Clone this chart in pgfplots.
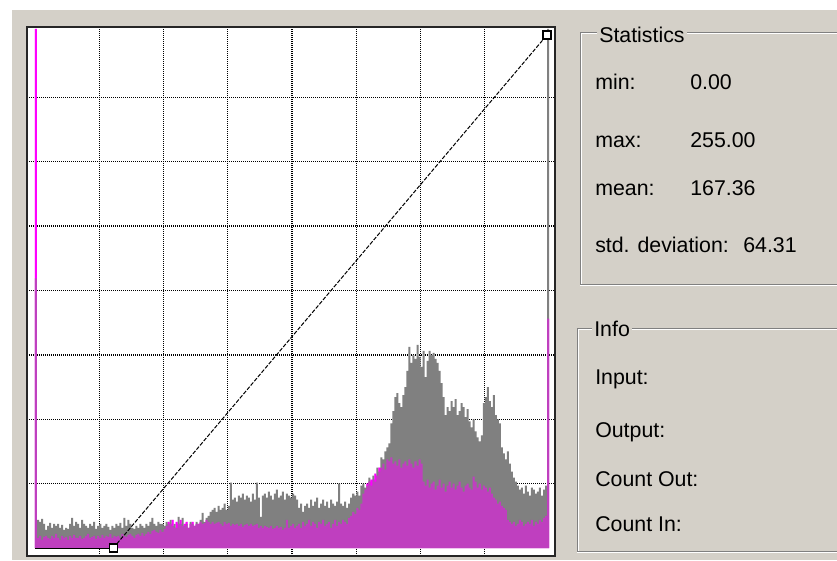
\documentclass[border=0pt]{standalone}
\usepackage{pgfplots}
\pgfplotsset{compat=1.18}
\usepackage{pgfplotstable}
\usepackage{fontspec}
\setmainfont{Liberation Sans}
\definecolor{panel}{HTML}{D4D0C8}
\definecolor{hgray}{HTML}{808080}
\definecolor{mag}{HTML}{FF00FF}
\definecolor{etch}{HTML}{808080}
\newcommand\ui{\fontsize{16}{19}\selectfont}

\pgfplotstableread[row sep=\\]{
x g m\\
0 134 258\\ 1 14 5\\ 2 13 6\\ 3 14.5 4\\ 4 12 5.5\\ 5 9 6\\ 6 11 5\\ 7 12.5 4.5\\ 8 10 6\\ 9 12 5\\
10 11 7\\ 11 12 5\\ 12 10 4\\ 13 11.5 6\\ 14 9 5\\ 15 10 5.5\\ 16 9.5 4\\ 17 12 6\\ 18 15 5\\ 19 11 6.5\\
20 13 5\\ 21 12 5\\ 22 10 6\\ 23 14 4.5\\ 24 12 5\\ 25 11 6\\ 26 10 7\\ 27 12 5\\ 28 11 5.5\\ 29 13 6\\
30 9.5 4.5\\ 31 11 6\\ 32 12 5\\ 33 10 6.5\\ 34 11 5\\ 35 12 6\\ 36 10.5 5.5\\ 37 9 7\\ 38 11 5\\ 39 10 6\\
40 12 5.5\\ 41 11 6\\ 42 12.5 5\\ 43 10 7\\ 44 15 6\\ 45 11 5.5\\ 46 14 6.5\\ 47 12 7\\ 48 10 6\\ 49 9.5 5\\
50 11 6.5\\ 51 10 7\\ 52 12 6\\ 53 11 7.5\\ 54 10 6\\ 55 12 7\\ 56 11 8\\ 57 13 7\\ 58 15 8.5\\ 59 12 9\\
60 11 8\\ 61 13 7.5\\ 62 12 9\\ 63 12 8\\ 64 11 9.5\\ 65 13 11\\ 66 12 13\\ 67 14 12\\ 68 11 14\\ 69 12 10\\
70 10 13\\ 71 15.5 12\\ 72 12 14\\ 73 15 11\\ 74 11 12\\ 75 12 13\\ 76 10 10\\ 77 13 12\\ 78 12 13\\ 79 11 11\\
80 13 12\\ 81 12 12\\ 82 14 13\\ 83 17.5 12\\ 84 13 12.5\\ 85 15 14\\ 86 16 13\\ 87 18 12\\ 88 19 13\\ 89 20 12\\
90 18 12.5\\ 91 21 13\\ 92 19 12\\ 93 20 11\\ 94 22 13\\ 95 19 12\\ 96 21 12.5\\ 97 32.5 11\\ 98 24 12\\ 99 25 11.5\\
100 23 12\\ 101 26 11\\ 102 25 12\\ 103 27 10.5\\ 104 24 11.5\\ 105 26 12\\ 106 25 11\\ 107 23 12\\ 108 27 11\\ 109 24 11.5\\
110 32.5 12\\ 111 25 10\\ 112 15.5 11\\ 113 26 10\\ 114 27 11\\ 115 25 10.5\\ 116 28 10\\ 117 26 11\\ 118 24 9.5\\ 119 27 10\\
120 29 11\\ 121 25 10\\ 122 26 10.5\\ 123 28 9\\ 124 24 10\\ 125 27 14\\ 126 26 10\\ 127 25 11\\ 128 27 12\\ 129 26 10\\
130 24 11\\ 131 20 12\\ 132 22 10\\ 133 18 13\\ 134 21 11\\ 135 22 12\\ 136 20 14\\ 137 24 11\\ 138 21 13\\ 139 23 12\\
140 25 10\\ 141 20 13\\ 142 22 12\\ 143 24 14\\ 144 21 11\\ 145 23 12\\ 146 20 13\\ 147 24 10\\ 148 22 12\\ 149 21 14\\
150 23 11\\ 151 32 13\\ 152 22 12\\ 153 21 14\\ 154 23 13\\ 155 20 12\\ 156 22 15\\ 157 25 16\\ 158 27 18\\ 159 26 17\\
160 28 20\\ 161 26 19\\ 162 31 22\\ 163 32 27\\ 164 30 29\\ 165 31 32\\ 166 35 33\\ 167 31 34\\ 168 36 34\\ 169 33 37\\
170 40 36\\ 171 38 40\\ 172 45 40\\ 173 44 42\\ 174 48 39\\ 175 50 44\\ 176 52 43\\ 177 62 45\\ 178 68 42\\ 179 75 43\\
180 77 41\\ 181 72 44\\ 182 70 40\\ 183 76 42\\ 184 80 43\\ 185 88 41\\ 186 100 44\\ 187 92 42\\ 188 96 40\\ 189 94 43\\
190 101 41\\ 191 95 44\\ 192 90 42\\ 193 98 33\\ 194 85 31\\ 195 93 34\\ 196 98 30\\ 197 96 32\\ 198 97 33\\ 199 94 29\\
200 92 31\\ 201 88 34\\ 202 82 30\\ 203 75 32\\ 204 66 28\\ 205 70 31\\ 206 68 33\\ 207 73 30\\ 208 70 32\\ 209 74 29\\
210 66 31\\ 211 68 33\\ 212 72 30\\ 213 70 28\\ 214 65 31\\ 215 69 32\\ 216 63 30\\ 217 60 29\\ 218 64 35.5\\ 219 58 33\\
220 55 30\\ 221 53 32\\ 222 56 29\\ 223 72 31\\ 224 75 30\\ 225 80 28\\ 226 73 30\\ 227 70 27\\ 228 76 25\\ 229 66 24\\
230 64 22\\ 231 62 23\\ 232 50 21\\ 233 47 20\\ 234 44 19\\ 235 48 14\\ 236 42 13\\ 237 38 12\\ 238 35 13\\ 239 33 11\\
240 31 12\\ 241 29 14\\ 242 30 13\\ 243 27 11\\ 244 31 12\\ 245 28 13\\ 246 26 12\\ 247 30 14\\ 248 29 11\\ 249 27 13\\
250 28 12\\ 251 30 14\\ 252 26 13\\ 253 29 15\\ 254 31 16\\ 255 258 114\\ 256 258 114\\
}\hist

\begin{document}
\begin{tikzpicture}
\begin{scope}[x=0.75pt,y=-0.75pt]
  \fill[panel] (0,0) rectangle (837,560);
  \fill[white] (0,0) rectangle (837,10);
  \fill[white] (0,0) rectangle (12,560);
\end{scope}

\begin{axis}[
  at={(20.25pt,-417pt)}, anchor=south west,
  scale only axis, width=396pt, height=396.75pt,
  xmin=-3.98, xmax=258.98, ymin=-3.98, ymax=258.98,
  xtick={32,64,96,128,160,192,224},
  ytick={32,64,96,128,160,192,224},
  xticklabels={}, yticklabels={},
  major tick length=0pt,
  grid=major,
  major grid style={black, line width=1pt, dash pattern=on 0.9pt off 0.6pt},
  axis line style={line width=1.5pt, color=black!85},
  axis background/.style={fill=white},
  clip=true,
]
\addplot[const plot mark left, draw=none, fill=mag] table[x=x,y=m]{\hist} \closedcycle;
\addplot[const plot mark left, draw=none, fill=hgray] table[x=x,y=g]{\hist} \closedcycle;
\addplot[const plot mark left, draw=none, fill=mag, fill opacity=0.5] table[x=x,y=m]{\hist} \closedcycle;
\addplot[black, line width=0.75pt] coordinates {(0,0) (39,0)};
\addplot[black, line width=0.75pt, dash pattern=on 3pt off 1.2pt] coordinates {(39,0) (255,255)};
\addplot[only marks, mark=square*, mark size=3pt, mark options={fill=white, draw=black, line width=1pt}] coordinates {(39,0) (255,255)};
\end{axis}

\begin{scope}[x=0.75pt,y=-0.75pt]
  % Statistics group box
  \draw[etch, line width=0.75pt] (837,32.5) -- (580.5,32.5) -- (580.5,284.5) -- (837,284.5);
  \draw[white, line width=0.75pt] (837,33.5) -- (581.5,33.5) -- (581.5,283.5);
  \draw[white, line width=0.75pt] (580,285.5) -- (837,285.5);
  \node[anchor=base west, fill=panel, inner xsep=1.5pt, inner ysep=1pt, font=\ui] at (597,43) {Statistics};
  \node[anchor=base west, inner sep=0pt, font=\ui] at (595,89.5) {min:};
  \node[anchor=base west, inner sep=0pt, font=\ui] at (690,89.5) {0.00};
  \node[anchor=base west, inner sep=0pt, font=\ui] at (595,147.5) {max:};
  \node[anchor=base west, inner sep=0pt, font=\ui] at (690,147.5) {255.00};
  \node[anchor=base west, inner sep=0pt, font=\ui] at (595,195) {mean:};
  \node[anchor=base west, inner sep=0pt, font=\ui] at (690,195) {167.36};
  \node[anchor=base west, inner sep=0pt, font=\ui] at (595,252) {std. deviation:};
  \node[anchor=base west, inner sep=0pt, font=\ui] at (743,252) {64.31};
  % Info group box
  \draw[etch, line width=0.75pt] (837,328.5) -- (577.5,328.5) -- (577.5,551.5) -- (837,551.5);
  \draw[white, line width=0.75pt] (837,329.5) -- (578.5,329.5) -- (578.5,550.5);
  \draw[white, line width=0.75pt] (577,552.5) -- (837,552.5);
  \node[anchor=base west, fill=panel, inner xsep=1.5pt, inner ysep=1pt, font=\ui] at (592,336) {Info};
  \node[anchor=base west, inner sep=0pt, font=\ui] at (595,384) {Input:};
  \node[anchor=base west, inner sep=0pt, font=\ui] at (595,437) {Output:};
  \node[anchor=base west, inner sep=0pt, font=\ui] at (595,486) {Count Out:};
  \node[anchor=base west, inner sep=0pt, font=\ui] at (595,531) {Count In:};
\end{scope}
\pgfresetboundingbox
\path[use as bounding box] (0pt,0pt) rectangle (627.75pt,-420pt);
\end{tikzpicture}
\end{document}
